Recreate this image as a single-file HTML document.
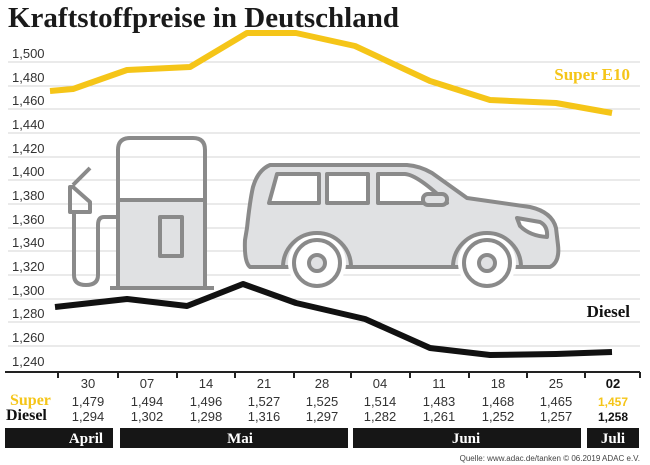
<!DOCTYPE html>
<html><head><meta charset="utf-8"><style>
body{margin:0;background:#fff;width:650px;height:465px;overflow:hidden}
svg{display:block}
</style></head><body>
<svg width="650" height="465" viewBox="0 0 650 465" font-family="Liberation Sans, sans-serif">
<text x="8" y="27" font-family="Liberation Serif, serif" font-weight="bold" font-size="29" fill="#1a1a1a">Kraftstoffpreise in Deutschland</text>
<g stroke="#d6d6d6" stroke-width="1">
<line x1="8" y1="62" x2="640" y2="62"/><line x1="8" y1="86" x2="640" y2="86"/><line x1="8" y1="109" x2="640" y2="109"/><line x1="8" y1="133" x2="640" y2="133"/><line x1="8" y1="157" x2="640" y2="157"/><line x1="8" y1="180" x2="640" y2="180"/><line x1="8" y1="204" x2="640" y2="204"/><line x1="8" y1="228" x2="640" y2="228"/><line x1="8" y1="251" x2="640" y2="251"/><line x1="8" y1="275" x2="640" y2="275"/><line x1="8" y1="299" x2="640" y2="299"/><line x1="8" y1="322" x2="640" y2="322"/><line x1="8" y1="346" x2="640" y2="346"/>
</g>
<g font-size="13" fill="#333">
<text x="12" y="58">1,500</text><text x="12" y="82">1,480</text><text x="12" y="105">1,460</text><text x="12" y="129">1,440</text><text x="12" y="153">1,420</text><text x="12" y="176">1,400</text><text x="12" y="200">1,380</text><text x="12" y="224">1,360</text><text x="12" y="247">1,340</text><text x="12" y="271">1,320</text><text x="12" y="295">1,300</text><text x="12" y="318">1,280</text><text x="12" y="342">1,260</text><text x="12" y="366">1,240</text>
</g>
<!-- pump -->
<rect x="118" y="200" width="87" height="88" fill="#e0e1e3"/>
<g fill="none" stroke="#8a8a8a" stroke-width="4" stroke-linejoin="round">
<path d="M118 288 V150 Q118 138 130 138 H193 Q205 138 205 150 V288"/>
<line x1="118" y1="200" x2="205" y2="200"/>
<rect x="160" y="217" width="22" height="39"/>
<line x1="110" y1="288" x2="214" y2="288"/>
<path d="M118 217 H104 Q98 217 98 225 V275 Q98 285 86 285 Q74 285 74 275 V212"/>
<path d="M70 187 V212 H90 V202 L73 187 Z"/>
<line x1="73" y1="185" x2="90" y2="168"/>
</g>
<!-- car -->
<g stroke="#8a8a8a" stroke-width="4" stroke-linejoin="round">
<path fill="#e0e1e3" d="M270 165 H407 Q420 166 432 173 L467 198 L530 207 Q552 212 556 228 L558 245 Q560 262 550 267 H250 Q244 262 245 240 L247 228 Q250 200 253 187 Q258 170 270 165 Z"/>
<circle cx="317" cy="263" r="29" fill="#fff" stroke="none"/>
<circle cx="487" cy="263" r="29" fill="#fff" stroke="none"/>
<path fill="none" d="M283 267 A34 34 0 0 1 351 267 M453 267 A34 34 0 0 1 521 267"/>
<circle cx="317" cy="263" r="23" fill="#fff"/><circle cx="317" cy="263" r="8" fill="#e0e1e3"/>
<circle cx="487" cy="263" r="23" fill="#fff"/><circle cx="487" cy="263" r="8" fill="#e0e1e3"/>
<path fill="#fff" d="M277 174 H319 V203 H269 Z"/>
<rect x="327" y="174" width="41" height="29" fill="#fff"/>
<path fill="#fff" d="M378 174 H405 Q418 175 447 203 H378 Z"/>
<rect x="423" y="194" width="24" height="11" rx="5" fill="#e0e1e3"/>
<path fill="#fff" d="M517 218 L540 222 Q548 226 547 237 Q530 236 520 226 Z"/>
</g>
<!-- series -->
<polyline fill="none" stroke="#f5c518" stroke-width="6" stroke-linejoin="round" points="50,91 73,89 127,70 190,67 247,33 296,33 355,46 430,81 490,100 556,103 612,113"/>
<polyline fill="none" stroke="#111" stroke-width="6" stroke-linejoin="round" points="55,307 127,299 187,306 243,284 296,303 365,319 430,348 490,355 556,354 612,352"/>
<text x="630" y="80" text-anchor="end" font-family="Liberation Serif, serif" font-weight="bold" font-size="17" fill="#f5c518">Super E10</text>
<text x="630" y="317" text-anchor="end" font-family="Liberation Serif, serif" font-weight="bold" font-size="17" fill="#111">Diesel</text>
<!-- axis -->
<line x1="5" y1="372" x2="640" y2="372" stroke="#222" stroke-width="2"/>
<g stroke="#222" stroke-width="2"><line x1="58" y1="372" x2="58" y2="378"/><line x1="118" y1="372" x2="118" y2="378"/><line x1="177" y1="372" x2="177" y2="378"/><line x1="235" y1="372" x2="235" y2="378"/><line x1="294" y1="372" x2="294" y2="378"/><line x1="351" y1="372" x2="351" y2="378"/><line x1="410" y1="372" x2="410" y2="378"/><line x1="469" y1="372" x2="469" y2="378"/><line x1="527" y1="372" x2="527" y2="378"/><line x1="585" y1="372" x2="585" y2="378"/><line x1="640" y1="372" x2="640" y2="378"/></g>
<g font-size="13" fill="#333" text-anchor="middle">
<text x="88" y="388">30</text><text x="147" y="388">07</text><text x="206" y="388">14</text><text x="264" y="388">21</text><text x="322" y="388">28</text><text x="380" y="388">04</text><text x="439" y="388">11</text><text x="498" y="388">18</text><text x="556" y="388">25</text><text x="613" y="388" font-weight="bold" fill="#111">02</text>
<text x="88" y="406">1,479</text><text x="147" y="406">1,494</text><text x="206" y="406">1,496</text><text x="264" y="406">1,527</text><text x="322" y="406">1,525</text><text x="380" y="406">1,514</text><text x="439" y="406">1,483</text><text x="498" y="406">1,468</text><text x="556" y="406">1,465</text><text x="613" y="406" font-weight="bold" fill="#f5c518" font-size="12">1,457</text>
<text x="88" y="421">1,294</text><text x="147" y="421">1,302</text><text x="206" y="421">1,298</text><text x="264" y="421">1,316</text><text x="322" y="421">1,297</text><text x="380" y="421">1,282</text><text x="439" y="421">1,261</text><text x="498" y="421">1,252</text><text x="556" y="421">1,257</text><text x="613" y="421" font-weight="bold" fill="#111" font-size="12">1,258</text>
</g>
<text x="10" y="405" font-family="Liberation Serif, serif" font-weight="bold" font-size="16" fill="#f5c518">Super</text>
<text x="6" y="420" font-family="Liberation Serif, serif" font-weight="bold" font-size="16" fill="#111">Diesel</text>
<g fill="#161616"><rect x="5" y="428" width="108" height="20"/><rect x="120" y="428" width="228" height="20"/><rect x="353" y="428" width="228" height="20"/><rect x="587" y="428" width="52" height="20"/></g>
<g font-family="Liberation Serif, serif" font-weight="bold" font-size="15" fill="#fff" text-anchor="middle">
<text x="86" y="443">April</text><text x="240" y="443">Mai</text><text x="466" y="443">Juni</text><text x="613" y="443">Juli</text></g>
<text x="640" y="461" text-anchor="end" font-size="8" fill="#444">Quelle: www.adac.de/tanken   © 06.2019  ADAC e.V.</text>
</svg>
</body></html>
